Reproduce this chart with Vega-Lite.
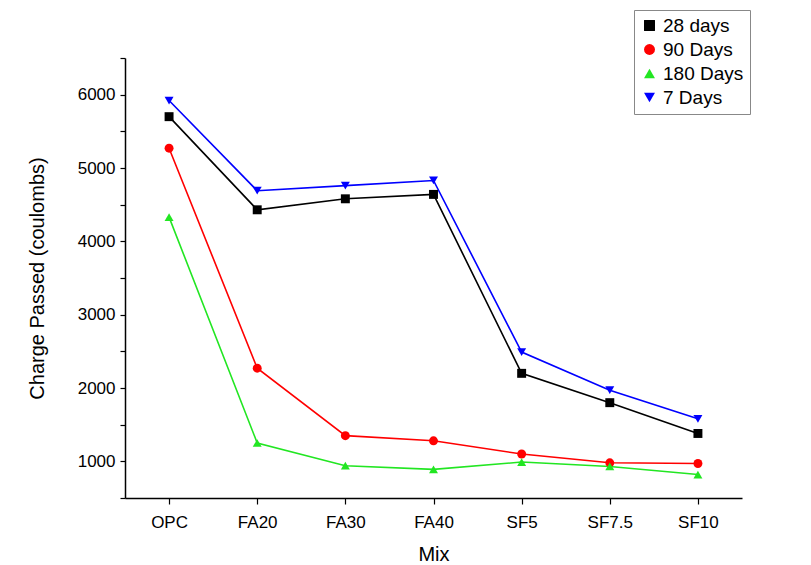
{
  "$schema": "https://vega.github.io/schema/vega-lite/v6.json",
  "width": 617,
  "height": 440,
  "autosize": "none",
  "padding": {"left": 125, "top": 58, "right": 69, "bottom": 67},
  "background": "white",
  "data": {
    "values": [
      {"Mix": "OPC", "Series": "28 days", "Charge": 5700},
      {"Mix": "FA20", "Series": "28 days", "Charge": 4430},
      {"Mix": "FA30", "Series": "28 days", "Charge": 4580},
      {"Mix": "FA40", "Series": "28 days", "Charge": 4640},
      {"Mix": "SF5", "Series": "28 days", "Charge": 2200},
      {"Mix": "SF7.5", "Series": "28 days", "Charge": 1800},
      {"Mix": "SF10", "Series": "28 days", "Charge": 1380},
      {"Mix": "OPC", "Series": "90 Days", "Charge": 5270},
      {"Mix": "FA20", "Series": "90 Days", "Charge": 2270},
      {"Mix": "FA30", "Series": "90 Days", "Charge": 1350},
      {"Mix": "FA40", "Series": "90 Days", "Charge": 1280},
      {"Mix": "SF5", "Series": "90 Days", "Charge": 1100},
      {"Mix": "SF7.5", "Series": "90 Days", "Charge": 980},
      {"Mix": "SF10", "Series": "90 Days", "Charge": 970},
      {"Mix": "OPC", "Series": "180 Days", "Charge": 4330},
      {"Mix": "FA20", "Series": "180 Days", "Charge": 1250},
      {"Mix": "FA30", "Series": "180 Days", "Charge": 940},
      {"Mix": "FA40", "Series": "180 Days", "Charge": 890},
      {"Mix": "SF5", "Series": "180 Days", "Charge": 990},
      {"Mix": "SF7.5", "Series": "180 Days", "Charge": 930},
      {"Mix": "SF10", "Series": "180 Days", "Charge": 820},
      {"Mix": "OPC", "Series": "7 Days", "Charge": 5920},
      {"Mix": "FA20", "Series": "7 Days", "Charge": 4690},
      {"Mix": "FA30", "Series": "7 Days", "Charge": 4760},
      {"Mix": "FA40", "Series": "7 Days", "Charge": 4830},
      {"Mix": "SF5", "Series": "7 Days", "Charge": 2490},
      {"Mix": "SF7.5", "Series": "7 Days", "Charge": 1970},
      {"Mix": "SF10", "Series": "7 Days", "Charge": 1580}
    ]
  },
  "config": {
    "font": "Liberation Sans",
    "view": {"stroke": null},
    "axis": {"domainColor": "black", "tickColor": "black", "labelColor": "black", "titleColor": "black", "grid": false, "labelFontSize": 17, "titleFontSize": 20, "titleFontWeight": "normal", "domainWidth": 1.5, "tickWidth": 1.2}
  },
  "encoding": {
    "x": {"field": "Mix", "type": "ordinal", "sort": ["OPC", "FA20", "FA30", "FA40", "SF5", "SF7.5", "SF10"],
      "scale": {"type": "point", "padding": 0.5},
      "axis": {"title": "Mix", "labelAngle": 0, "labelPadding": 10, "titlePadding": 14, "tickSize": 6}},
    "y": {"field": "Charge", "type": "quantitative", "scale": {"domain": [500, 6500], "nice": false},
      "axis": {"title": "Charge Passed (coulombs)", "values": [500, 1000, 1500, 2000, 2500, 3000, 3500, 4000, 4500, 5000, 5500, 6000, 6500],
        "labelExpr": "datum.value % 1000 == 0 ? datum.value : ''", "tickSize": 5, "labelPadding": 5, "titlePadding": 30}},
    "color": {"field": "Series", "type": "nominal", "sort": ["28 days", "90 Days", "180 Days", "7 Days"],
      "scale": {"domain": ["28 days", "90 Days", "180 Days", "7 Days"], "range": ["#000000", "#ff0000", "#22e622", "#0000ff"]},
      "legend": {"title": null, "orient": "none", "legendX": 509, "legendY": -48, "labelFontSize": 19, "symbolSize": 120,
        "strokeColor": "#888888", "padding": 6, "rowPadding": 4, "fillColor": "white", "symbolStrokeWidth": 0}}
  },
  "layer": [
    {"mark": {"type": "line", "strokeWidth": 1.6}},
    {"mark": {"type": "point", "filled": true, "size": 80, "opacity": 1},
      "encoding": {"shape": {"field": "Series", "type": "nominal", "sort": ["28 days", "90 Days", "180 Days", "7 Days"],
        "scale": {"domain": ["28 days", "90 Days", "180 Days", "7 Days"], "range": ["square", "circle", "triangle-up", "triangle-down"]}}}}
  ]
}
